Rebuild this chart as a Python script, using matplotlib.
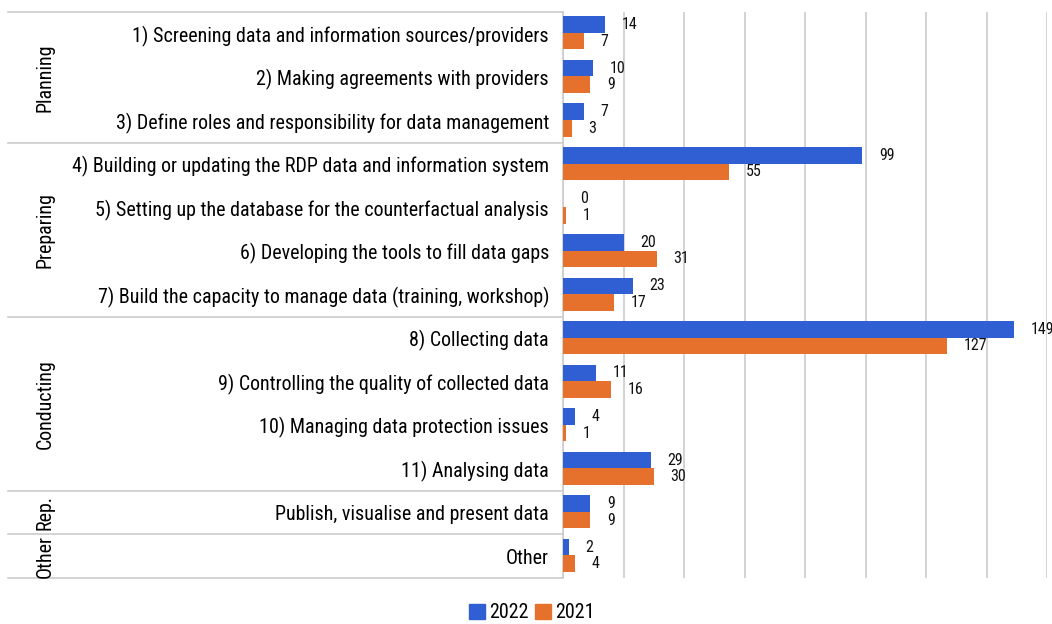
import matplotlib
matplotlib.use("Agg")
import matplotlib.pyplot as plt
import matplotlib.transforms as mtransforms
from matplotlib import font_manager
from matplotlib.patches import Patch
import numpy as np

names = {f.name for f in font_manager.fontManager.ttflist}
cond = [(f.name, f.stretch) for f in font_manager.fontManager.ttflist
        if 'ondensed' in f.fname or 'arrow' in f.fname or f.stretch in ('condensed', 'semi-condensed')]
fam = 'DejaVu Sans'
stretch = 'normal'
for cand in ['Liberation Sans Narrow', 'Roboto Condensed', 'Open Sans Condensed', 'Noto Sans Condensed']:
    if cand in names:
        fam = cand
        break
else:
    for n_, st in cond:
        if n_ == 'DejaVu Sans':
            stretch = 'condensed'
            break
plt.rcParams['font.family'] = [fam, 'DejaVu Sans']
plt.rcParams['font.stretch'] = stretch

categories = [
    "1) Screening data and information sources/providers",
    "2) Making agreements with providers",
    "3) Define roles and responsibility for data management",
    "4) Building or updating the RDP data and information system",
    "5) Setting up the database for the counterfactual analysis",
    "6) Developing the tools to fill data gaps",
    "7) Build the capacity to manage data (training, workshop)",
    "8) Collecting data",
    "9) Controlling the quality of collected data",
    "10) Managing data protection issues",
    "11) Analysing data",
    "Publish, visualise and present data",
    "Other",
]
values_2022 = [14, 10, 7, 99, 0, 20, 23, 149, 11, 4, 29, 9, 2]
values_2021 = [7, 9, 3, 55, 1, 31, 17, 127, 16, 1, 30, 9, 4]
groups = ["Planning", "Preparing", "Conducting", "Rep.", "Other"]
group_sizes = [3, 4, 4, 1, 1]

c2022 = "#2F5FD2"
c2021 = "#E6712D"
grid_c = "#CCCCCC"

fig = plt.figure(figsize=(10.52, 6.24), dpi=100)
ax = fig.add_axes([563/1052, 1-578/624, (1047-563)/1052, (578-12)/624])
renderer = fig.canvas.get_renderer()

def fit_size(text, target_px, base=12):
    t = fig.text(0, 0, text, fontsize=base)
    w = t.get_window_extent(renderer).width
    t.remove()
    return base * target_px / w

lab_size = fit_size(categories[3], 477)
val_size = lab_size * 0.8

n = len(categories)
y = np.arange(n)
h = 0.38
ax.barh(y - h/2 - 0.02, values_2022, height=h, color=c2022, zorder=3)
ax.barh(y + h/2 - 0.02, values_2021, height=h, color=c2021, zorder=3)

for i in range(n):
    ax.annotate(str(values_2022[i]), (values_2022[i], y[i] - h/2 - 0.02),
                xytext=(12, 0), textcoords='offset points', va='center', ha='left',
                fontsize=val_size, color='#111111')
    ax.annotate(str(values_2021[i]), (values_2021[i], y[i] + h/2 - 0.02),
                xytext=(12, 0), textcoords='offset points', va='center', ha='left',
                fontsize=val_size, color='#111111')

ax.set_xlim(0, 160)
ax.set_ylim(n - 0.5, -0.5)
ax.set_xticks(np.arange(0, 161, 20))
ax.xaxis.grid(True, color=grid_c, linewidth=1.2, zorder=0)
ax.tick_params(axis='x', length=0, labelbottom=False)
ax.set_yticks(y)
ax.set_yticklabels(categories, fontsize=lab_size)
ax.tick_params(axis='y', length=0, pad=10)
for s in ['top', 'right', 'bottom']:
    ax.spines[s].set_visible(False)
ax.spines['left'].set_color(grid_c)
ax.spines['left'].set_linewidth(1.2)

trans = mtransforms.blended_transform_factory(fig.transFigure, ax.transData)
x0 = 8/1052
x1 = 563/1052
bounds = [-0.5]
for s in group_sizes:
    bounds.append(bounds[-1] + s)
for b in bounds:
    fig.add_artist(plt.Line2D([x0, x1], [b, b], transform=trans, color=grid_c, linewidth=1.2))
for gname, lo, hi in zip(groups, bounds[:-1], bounds[1:]):
    fig.text(45/1052, (lo + hi)/2, gname, transform=trans, rotation=90,
             ha='center', va='center', fontsize=lab_size)

handles = [Patch(color=c2022, label="2022"), Patch(color=c2021, label="2021")]
fig.legend(handles=handles, loc='center', bbox_to_anchor=(532/1052, 1-613/624), ncol=2,
           frameon=False, fontsize=lab_size, handlelength=0.8, handleheight=0.8,
           handletextpad=0.2, columnspacing=0.3)

fig.savefig("out.png", dpi=100)
